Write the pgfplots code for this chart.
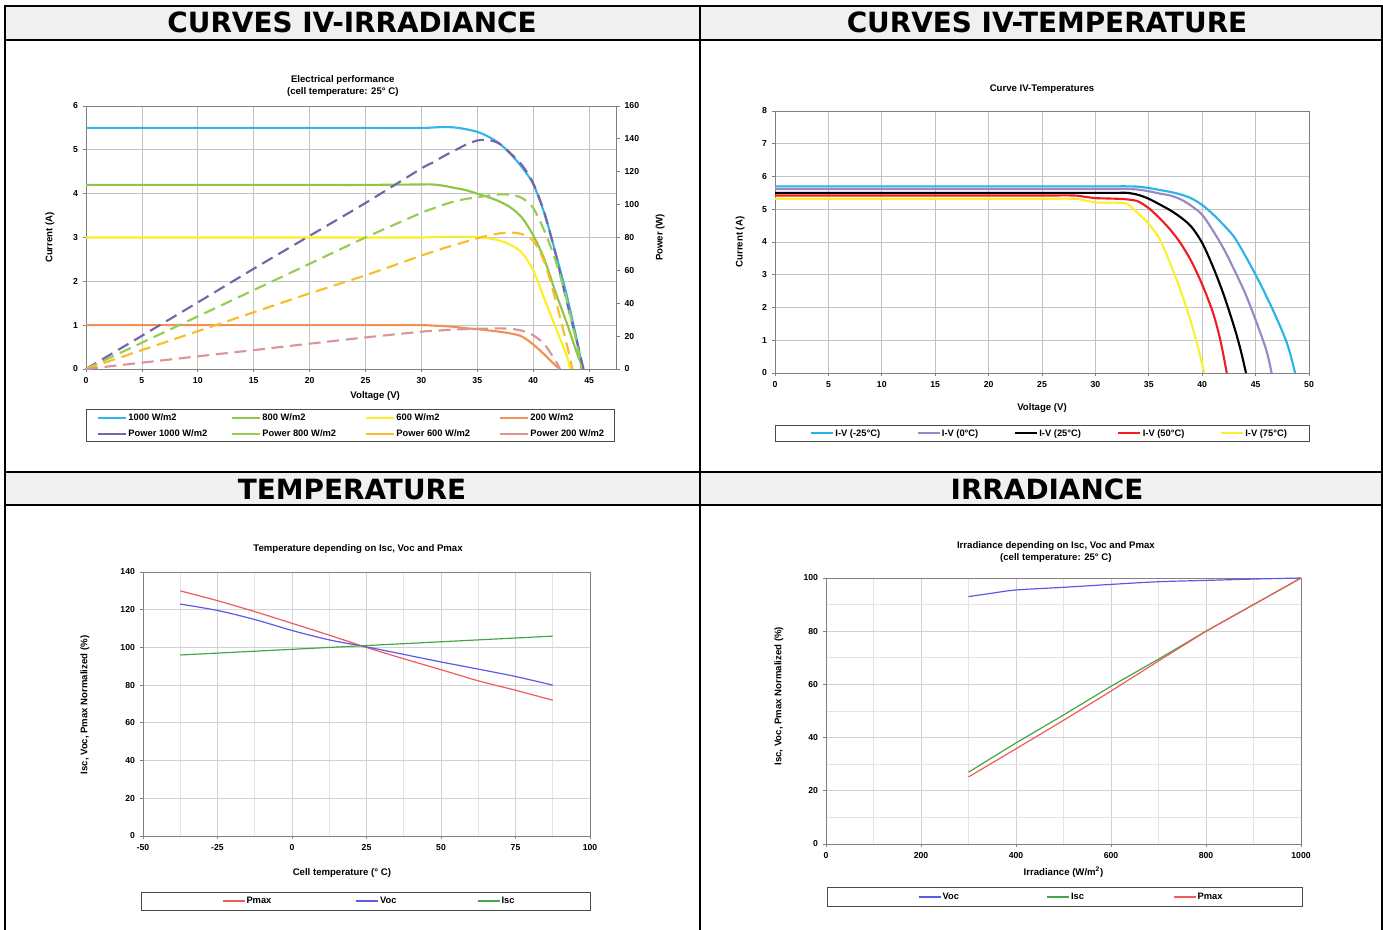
\documentclass[border=0pt]{standalone}
\usepackage{fontspec}
\setmainfont{Liberation Sans}
\newfontfamily\hdrfont{DejaVu Sans}
\usepackage{pgfplots}
\pgfplotsset{compat=1.18}

\definecolor{c1000}{RGB}{51,182,230}
\definecolor{c800}{RGB}{140,200,70}
\definecolor{c600}{RGB}{250,240,40}
\definecolor{c200}{RGB}{240,145,85}
\definecolor{p1000}{RGB}{118,100,170}
\definecolor{p800}{RGB}{150,205,80}
\definecolor{p600}{RGB}{252,188,40}
\definecolor{p200}{RGB}{218,150,150}
\definecolor{tcyan}{RGB}{40,180,230}
\definecolor{tpurple}{RGB}{155,135,195}
\definecolor{tred}{RGB}{240,30,35}
\definecolor{tyellow}{RGB}{250,240,50}
\definecolor{lred}{RGB}{240,90,90}
\definecolor{lblue}{RGB}{90,90,230}
\definecolor{lgreen}{RGB}{70,165,70}
\definecolor{hdrgray}{RGB}{240,240,240}
\definecolor{gridc}{RGB}{195,195,195}
\definecolor{axc}{RGB}{128,128,128}

\pgfplotsset{
 every axis title shift=0pt,
 base/.style={scale only axis, anchor=south west, clip=false,
  axis line style={axc, line width=0.6pt}, tick style={axc, line width=0.6pt},
  tick align=outside, major tick length=2.5pt, minor tick length=0pt,
  xtick pos=left, ytick pos=left, grid=major,
  major grid style={gridc, line width=0.6pt},
  tick label style={font=\fontsize{6.5}{7}\selectfont\bfseries},
  label style={font=\fontsize{7.2}{8}\selectfont\bfseries},
  title style={font=\fontsize{7.2}{8.8}\selectfont\bfseries, align=center, anchor=center},
  /pgf/number format/assume math mode=true, /pgf/number format/1000 sep={},
  legend cell align=left,
  legend style={draw=none, fill=none, inner sep=0pt, outer sep=0pt, anchor=west,
   font=\fontsize{7}{8}\selectfont\bfseries,
   nodes={inner sep=0pt, text height=6pt, text depth=1.5pt},
   /tikz/every odd column/.append style={column sep=1pt},
   /tikz/every even column/.append style={column sep=0pt}},
 },
 lg/.style={legend image code/.code={\draw[##1] (0pt,0pt) -- (#1,0pt);}},
}

\begin{document}
\begin{tikzpicture}
\path[use as bounding box] (0,0) rectangle (1037.25pt,-697.5pt);

% ---------------- Panel 1 ----------------
\begin{axis}[base, lg=21pt, at={(64.5pt,-276.75pt)}, width=397.95pt, height=197.25pt,
 xmin=0, xmax=47.46, ymin=0, ymax=6, xtick={0,5,...,45}, ytick={0,1,...,6},
 xlabel={Voltage (V)}, ylabel={Current (A)},
 xlabel style={at={(axis description cs:0.545,-0.103)}, anchor=center},
 ylabel style={at={(axis description cs:-0.068,0.5)}, anchor=center},
 title={Electrical performance\\(cell temperature: 25° C)},
 title style={at={(axis description cs:0.484,1.076)}},
 legend columns=4, legend style={at={(axis description cs:0.0207,-0.2167)}, row sep=4.5pt}]
\addplot[c1000, line width=1.6pt, smooth] coordinates {(0,5.5) (5,5.5) (10,5.5) (15,5.5) (20,5.5) (25,5.5) (30,5.5) (31,5.51) (32,5.52) (33,5.51) (34,5.47) (35,5.41) (36,5.3) (37,5.14) (38,4.9) (39,4.6) (40,4.22) (41,3.55) (42,2.65) (43,1.68) (44,0.55) (44.4,0)};
\addlegendentry{\makebox[76.9pt][l]{1000 W/m2}}
\addplot[c800, line width=1.6pt, smooth] coordinates {(0,4.2) (5,4.2) (10,4.2) (15,4.2) (20,4.2) (25,4.2) (30,4.21) (31,4.21) (32,4.18) (33,4.13) (34,4.08) (35,4.0) (36,3.92) (37,3.82) (38,3.68) (39,3.45) (40,3.05) (41,2.5) (42,1.75) (43,1.05) (44,0.3) (44.5,0)};
\addlegendentry{\makebox[76.9pt][l]{800 W/m2}}
\addplot[c600, line width=1.6pt, smooth] coordinates {(0,3.0) (5,3.0) (10,3.0) (15,3.0) (20,3.0) (25,3.0) (30,3.0) (31,3.01) (32,3.02) (33,3.02) (34,3.02) (35,3.01) (36,2.98) (37,2.93) (38,2.83) (39,2.65) (40,2.25) (41,1.6) (42,0.95) (43,0.3) (43.3,0)};
\addlegendentry{\makebox[76.9pt][l]{600 W/m2}}
\addplot[c200, line width=1.6pt, smooth] coordinates {(0,1.0) (5,1.0) (10,1.0) (15,1.0) (20,1.0) (25,1.0) (30,1.0) (31,0.99) (32,0.98) (33,0.96) (34,0.93) (35,0.91) (36,0.88) (37,0.85) (38,0.81) (39,0.74) (40,0.56) (41,0.33) (42,0.08) (42.4,0)};
\addlegendentry{\makebox[76.9pt][l]{200 W/m2}}
\addlegendimage{p1000, line width=1.6pt}
\addlegendentry{\makebox[76.9pt][l]{Power 1000 W/m2}}
\addlegendimage{p800, line width=1.6pt}
\addlegendentry{\makebox[76.9pt][l]{Power 800 W/m2}}
\addlegendimage{p600, line width=1.6pt}
\addlegendentry{\makebox[76.9pt][l]{Power 600 W/m2}}
\addlegendimage{p200, line width=1.6pt}
\addlegendentry{\makebox[76.9pt][l]{Power 200 W/m2}}
\draw[black!70, line width=0.6pt] (axis description cs:0,-0.1521) rectangle (axis description cs:0.9951,-0.2738);
\end{axis}
\begin{axis}[base, at={(64.5pt,-276.75pt)}, width=397.95pt, height=197.25pt,
 xmin=0, xmax=47.46, ymin=0, ymax=160, axis x line=none, axis y line*=right, ytick pos=right,
 ytick={0,20,...,160}, grid=none, ylabel={Power (W)},
 ylabel style={at={(axis description cs:1.082,0.5)}, anchor=center}]
\addplot[p1000, line width=1.6pt, dash pattern=on 9pt off 5pt, smooth] coordinates {(0,0) (5,20.2) (10,40.5) (15,61) (20,81) (25,101) (30,122) (31,125.5) (32,129.5) (33,133) (34,136.5) (35,139) (36,139.3) (37,137) (38,131) (39,124) (40,113) (41,95) (42,70) (43,41) (44,14) (44.5,0)};
\addplot[p800, line width=1.6pt, dash pattern=on 9pt off 5pt, smooth] coordinates {(0,0) (5,16) (10,32) (15,48) (20,64) (25,80) (30,95) (31,97.5) (32,100) (33,102) (34,103.5) (35,104.5) (36,105.5) (37,106.2) (38,106) (39,104) (40,98) (41,84) (42,66) (43,42) (44,12) (44.3,0)};
\addplot[p600, line width=1.6pt, dash pattern=on 9pt off 5pt, smooth] coordinates {(0,0) (5,11.5) (10,23) (15,34.5) (20,46) (25,57) (30,69) (31,71.3) (32,73.5) (33,75.5) (34,77.5) (35,79.5) (36,81.2) (37,82.5) (38,83) (39,82) (40,78) (41,65) (42,42) (43,15) (43.5,0)};
\addplot[p200, line width=1.6pt, dash pattern=on 9pt off 5pt, smooth] coordinates {(0,0) (5,3.85) (10,7.7) (15,11.5) (20,15.4) (25,19.2) (30,22.7) (31,23.2) (32,23.6) (33,24) (34,24.3) (35,24.5) (36,24.6) (37,24.7) (38,24.4) (39,23.3) (40,20.5) (41,15) (42,5) (42.4,0)};
\end{axis}

% ---------------- Panel 2 ----------------
\begin{axis}[base, lg=16.5pt, at={(581.25pt,-279.75pt)}, width=400.5pt, height=196.5pt,
 xmin=0, xmax=50, ymin=0, ymax=8, xtick={0,5,...,50}, ytick={0,1,...,8},
 xlabel={Voltage (V)}, ylabel={Current (A)},
 xlabel style={at={(axis description cs:0.5,-0.134)}, anchor=center},
 ylabel style={at={(axis description cs:-0.0655,0.5)}, anchor=center},
 title={Curve IV-Temperatures}, title style={at={(axis description cs:0.5,1.084)}},
 legend columns=5, legend style={at={(axis description cs:0.0655,-0.229)}}]
\addplot[tcyan, line width=1.6pt, smooth] coordinates {(0,5.7) (5,5.7) (10,5.7) (15,5.7) (20,5.7) (25,5.7) (30,5.7) (31,5.7) (32,5.7) (33,5.7) (34,5.69) (35,5.65) (36,5.59) (37,5.53) (38,5.45) (39,5.33) (40,5.13) (41,4.85) (42,4.52) (43,4.15) (44,3.6) (45,3.0) (46,2.35) (47,1.65) (48,0.85) (48.7,0)};
\addlegendentry{\makebox[60.75pt][l]{I-V (-25°C)}}
\addplot[tpurple, line width=1.6pt, smooth] coordinates {(0,5.62) (5,5.62) (10,5.62) (15,5.62) (20,5.62) (25,5.62) (30,5.62) (31,5.62) (32,5.62) (33,5.62) (34,5.6) (35,5.55) (36,5.48) (37,5.42) (38,5.3) (39,5.1) (40,4.83) (41,4.35) (42,3.8) (43,3.15) (44,2.45) (45,1.62) (46,0.7) (46.5,0)};
\addlegendentry{\makebox[54pt][l]{I-V (0°C)}}
\addplot[black, line width=1.6pt, smooth] coordinates {(0,5.5) (5,5.5) (10,5.5) (15,5.5) (20,5.5) (25,5.5) (30,5.5) (31,5.5) (32,5.5) (33,5.5) (34,5.44) (35,5.32) (36,5.15) (37,4.97) (38,4.75) (39,4.46) (40,3.97) (41,3.25) (42,2.4) (43,1.4) (43.6,0.7) (44.1,0)};
\addlegendentry{\makebox[58.5pt][l]{I-V (25°C)}}
\addplot[tred, line width=1.6pt, smooth] coordinates {(0,5.42) (5,5.42) (10,5.42) (15,5.42) (20,5.42) (25,5.42) (28,5.42) (29,5.38) (30,5.34) (31,5.33) (32,5.32) (33,5.3) (34,5.24) (35,5.03) (36,4.73) (37,4.38) (38,3.95) (39,3.4) (40,2.7) (41,1.85) (41.7,1.0) (42.3,0)};
\addlegendentry{\makebox[57.75pt][l]{I-V (50°C)}}
\addplot[tyellow, line width=1.6pt, smooth] coordinates {(0,5.32) (5,5.32) (10,5.32) (15,5.32) (20,5.32) (25,5.32) (28,5.32) (29,5.27) (30,5.21) (31,5.2) (32,5.2) (33,5.16) (34,4.87) (35,4.55) (36,4.1) (37,3.35) (38,2.5) (39,1.5) (39.6,0.79) (40.2,0)};
\addlegendentry{\makebox[57.75pt][l]{I-V (75°C)}}
\draw[black!70, line width=0.6pt] (axis description cs:0,-0.1985) rectangle (axis description cs:1,-0.2595);
\end{axis}

% ---------------- Panel 3 ----------------
\begin{axis}[base, lg=16.5pt, at={(107.25pt,-627pt)}, width=335.25pt, height=198pt,
 xmin=-50, xmax=100, ymin=0, ymax=140, xtick={-50,-25,...,100}, ytick={0,20,...,140},
 minor x tick num=1, grid=both, minor grid style={gridc!45, line width=0.5pt},
 major grid style={gridc!75, line width=0.6pt},
 xlabel={Cell temperature (° C)}, ylabel={Isc, Voc, Pmax Normalized (\%)},
 xlabel style={at={(axis description cs:0.445,-0.14)}, anchor=center},
 ylabel style={at={(axis description cs:-0.13,0.496)}, anchor=center},
 title={Temperature depending on Isc, Voc and Pmax}, title style={at={(axis description cs:0.481,1.087)}},
 legend columns=3, legend style={at={(axis description cs:0.1767,-0.246)}}]
\addplot[lred, line width=0.9pt, smooth] coordinates {(-37.5,130) (-25,124.8) (-12.5,119) (0,112.8) (12.5,106.5) (25,100) (37.5,94) (50,88.2) (62.5,82.3) (75,77.3) (87.5,72)};
\addlegendentry{\makebox[81.75pt][l]{Pmax}}
\addplot[lblue, line width=0.9pt, smooth] coordinates {(-37.5,123) (-25,119.6) (-12.5,114.8) (0,109) (12.5,104) (25,100.3) (37.5,96.3) (50,92.3) (62.5,88.5) (75,84.6) (87.5,80)};
\addlegendentry{\makebox[72.75pt][l]{Voc}}
\addplot[lgreen, line width=0.9pt] coordinates {(-37.5,96) (25,101) (87.5,106)};
\addlegendentry{\makebox[72.75pt][l]{Isc}}
\draw[black!70, line width=0.6pt] (axis description cs:-0.0045,-0.212) rectangle (axis description cs:1.0,-0.280);
\end{axis}

% ---------------- Panel 4 ----------------
\begin{axis}[base, lg=16.5pt, at={(619.5pt,-633pt)}, width=356.25pt, height=199.5pt,
 xmin=0, xmax=1000, ymin=0, ymax=100, xtick={0,200,...,1000}, ytick={0,20,...,100},
 minor x tick num=1, minor y tick num=1, grid=both, minor grid style={gridc!45, line width=0.5pt},
 major grid style={gridc!75, line width=0.6pt},
 xlabel={Irradiance (W/m\textsuperscript{2})}, ylabel={Isc, Voc, Pmax Normalized (\%)},
 xlabel style={at={(axis description cs:0.5,-0.105)}, anchor=center},
 ylabel style={at={(axis description cs:-0.099,0.556)}, anchor=center},
 title={Irradiance depending on Isc, Voc and Pmax\\(cell temperature: 25° C)},
 title style={at={(axis description cs:0.484,1.098)}},
 legend columns=3, legend style={at={(axis description cs:0.1937,-0.199)}}]
\addplot[lblue, line width=0.9pt, smooth] coordinates {(300,93) (350,94.3) (400,95.5) (500,96.5) (600,97.6) (700,98.6) (800,99.1) (900,99.6) (1000,100)};
\addlegendentry{\makebox[78pt][l]{Voc}}
\addplot[lgreen, line width=0.9pt] coordinates {(300,27) (400,38) (500,48.5) (600,59.3) (700,69.5) (800,80) (900,90) (1000,100)};
\addlegendentry{\makebox[76.5pt][l]{Isc}}
\addplot[lred, line width=0.9pt] coordinates {(300,25.2) (400,35.8) (500,46.5) (600,57.5) (700,68.8) (800,80) (900,90) (1000,100)};
\addlegendentry{\makebox[76.5pt][l]{Pmax}}
\draw[black!70, line width=0.6pt] (axis description cs:0.002,-0.165) rectangle (axis description cs:1.002,-0.233);
\end{axis}

% ---------------- Frame and headers ----------------
\begin{scope}[x=0.75pt, y=-0.75pt]
\fill[hdrgray] (5,6) rectangle (1382,40);
\fill[hdrgray] (5,472) rectangle (1382,505);
\draw[line width=1.5pt] (4.25,6) -- (1382.75,6);
\draw[line width=1.5pt] (5,40) -- (1382,40);
\draw[line width=1.5pt] (5,472) -- (1382,472);
\draw[line width=1.5pt] (5,505) -- (1382,505);
\draw[line width=1.5pt] (5,6) -- (5,931);
\draw[line width=1.5pt] (700,6) -- (700,931);
\draw[line width=1.5pt] (1382,6) -- (1382,931);
\node[anchor=base, inner sep=0pt, font=\hdrfont\bfseries\fontsize{20.9}{24}\selectfont] at (352,33) {CURVES IV-IRRADIANCE};
\node[anchor=base, inner sep=0pt, font=\hdrfont\bfseries\fontsize{20.9}{24}\selectfont] at (1047,33) {CURVES IV-TEMPERATURE};
\node[anchor=base, inner sep=0pt, font=\hdrfont\bfseries\fontsize{20.9}{24}\selectfont] at (352,499) {TEMPERATURE};
\node[anchor=base, inner sep=0pt, font=\hdrfont\bfseries\fontsize{20.9}{24}\selectfont] at (1047,499) {IRRADIANCE};
\end{scope}
\end{tikzpicture}
\end{document}
